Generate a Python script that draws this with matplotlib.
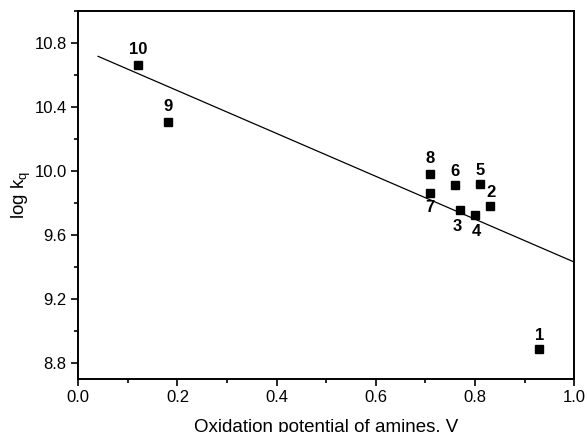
import numpy as np
from matplotlib import pyplot as plt
from matplotlib.ticker import MultipleLocator

# データ
labels = ['1', '2', '3', '4', '5', '6', '7', '8', '9', '10']
ox_potential = [0.93, 0.83, 0.77, 0.80, 0.81, 0.76, 0.71, 0.71, 0.18, 0.12]
log_kq = [8.885, 9.78, 9.755, 9.725, 9.915, 9.91, 9.86, 9.98, 10.305, 10.665]

# 回帰直線 y = a + b x
fit_a = 10.77
fit_b = -1.34
fit_xrange = [0.04, 1.0]

plt.rcParams['font.family'] = ['Liberation Sans', 'DejaVu Sans']

fig = plt.figure(figsize=(5.87, 4.32), dpi=100)
ax = fig.add_axes([0.1334, 0.1234, 0.8446, 0.8511])

ax.plot(ox_potential, log_kq, 's', color='black', markersize=6)

xf = np.array(fit_xrange)
ax.plot(xf, fit_a + fit_b * xf, color='black', linewidth=0.9)

# ラベルの位置（ポイント単位のオフセット）
offsets = {'1': (0, 10), '2': (1, 10), '3': (-2, -12), '4': (1, -12), '5': (0, 10),
           '6': (0, 10), '7': (0, -10), '8': (0, 11), '9': (0, 11), '10': (0, 11)}
for lab, x, y in zip(labels, ox_potential, log_kq):
    dx, dy = offsets[lab]
    ax.annotate(lab, (x, y), xytext=(dx, dy), textcoords='offset points',
                ha='center', va='center', fontsize=12, fontweight='bold')

ax.set_xlim(0.0, 1.0)
ax.set_ylim(8.7, 11.0)
ax.xaxis.set_major_locator(MultipleLocator(0.2))
ax.xaxis.set_minor_locator(MultipleLocator(0.1))
ax.yaxis.set_major_locator(MultipleLocator(0.4))
ax.yaxis.set_minor_locator(MultipleLocator(0.2))
ax.tick_params(which='major', direction='out', length=5, width=1.2, labelsize=12)
ax.tick_params(which='minor', direction='out', length=3, width=1.2)
for s in ax.spines.values():
    s.set_linewidth(1.4)

ax.set_xlabel('Oxidation potential of amines, V', fontsize=13.5, labelpad=10)
ax.set_ylabel('log k$_\\mathregular{q}$', fontsize=13.5, labelpad=1)

fig.savefig('out.png', dpi=100)
